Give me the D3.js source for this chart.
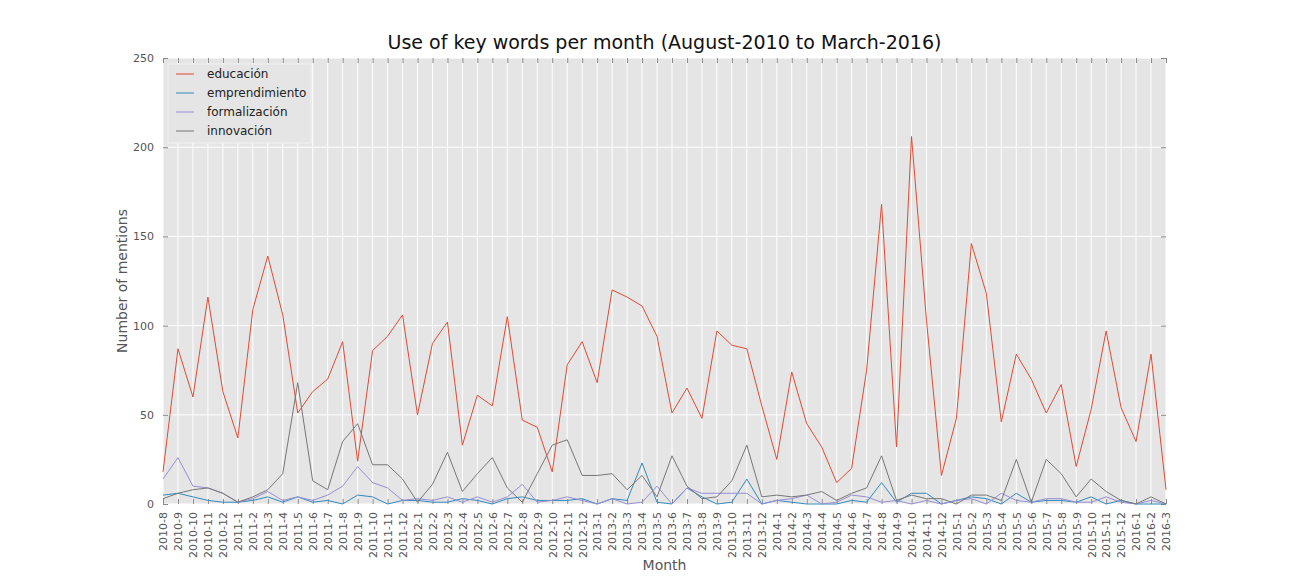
<!DOCTYPE html>
<html><head><meta charset="utf-8">
<script src="https://cdn.jsdelivr.net/npm/d3@7"></script>
<style>body{margin:0;background:#fff;font-family:"DejaVu Sans",sans-serif}</style>
</head><body><svg id="c" width="1296" height="576"></svg>
<script>
// months 2010-8 .. 2016-3
var months = [];
(function(){ var y=2010,m=8; while(!(y==2016&&m==4)){ months.push(y+"-"+m); m++; if(m>12){m=1;y++;} } })();

var educacion = [18,87,60,116,63,37,109,139,106,51,63,70,91,24,86,94,106,50,90,102,33,61,55,105,47,43,18,78,91,68,120,116,111,94,51,65,48,97,89,87,55,25,74,45,32,12,20,75,168,32,206,103,16,48,146,118,46,84,70,51,67,21,53,97,54,35,84,8];
var emprendimiento = [5,6,4,2,1,1,2,4,1,4,1,2,0,5,4,0,2,2,1,1,3,2,0,3,4,2,2,2,3,0,3,2,23,1,0,9,4,0,1,14,0,2,1,0,0,0,2,1,12,1,6,6,0,2,4,3,0,6,1,2,2,1,4,0,2,0,0,0];
var formalizacion = [14,26,10,9,6,1,3,7,2,4,2,5,10,21,12,9,2,3,2,4,1,4,1,4,11,1,2,4,2,0,3,0,1,10,0,9,6,6,6,6,0,2,3,5,0,1,5,4,1,2,0,2,0,2,3,0,6,2,1,3,3,1,1,4,1,0,2,0];
var innovacion = [3,6,8,9,6,1,4,8,17,68,13,8,35,45,22,22,14,1,11,29,7,17,26,9,1,17,33,36,16,16,17,8,16,4,27,10,3,4,13,33,4,5,4,5,7,2,6,9,27,2,5,3,3,0,5,5,2,25,1,25,17,4,14,7,2,0,4,0];

var seriesNames = ["educación","emprendimiento","formalización","innovación"];
var seriesData = [educacion, emprendimiento, formalizacion, innovacion];
var colors = ["#E24A33","#348ABD","#988ED5","#777777"];
var yTicks = [0,50,100,150,200,250];

var L=163,R=1166,T=58,B=504;
var svg = d3.select("#c");
var x = d3.scalePoint().domain(months).range([L,R]);
var y = d3.scaleLinear().domain([0,250]).range([B,T]);

svg.append("rect").attr("x",L).attr("y",T).attr("width",R-L).attr("height",B-T).attr("fill","#E5E5E5");

// grid
svg.append("g").selectAll("line").data(months).join("line")
  .attr("x1",d=>x(d)).attr("x2",d=>x(d)).attr("y1",T).attr("y2",B)
  .attr("stroke","#fff").attr("stroke-width",1);
svg.append("g").selectAll("line").data(yTicks).join("line")
  .attr("x1",L).attr("x2",R).attr("y1",d=>y(d)).attr("y2",d=>y(d))
  .attr("stroke","#fff").attr("stroke-width",1);

// axes
var gl = svg.append("g").attr("transform","translate("+L+",0)")
  .call(d3.axisLeft(y).tickValues(yTicks).tickSize(-5).tickPadding(9));
var gr = svg.append("g").attr("transform","translate("+R+",0)")
  .call(d3.axisRight(y).tickValues(yTicks).tickSize(-5).tickFormat(""));
var gb = svg.append("g").attr("transform","translate(0,"+B+")")
  .call(d3.axisBottom(x).tickSize(-5).tickPadding(8));
var gt = svg.append("g").attr("transform","translate(0,"+T+")")
  .call(d3.axisTop(x).tickSize(-5).tickFormat(""));
[gl,gr,gb,gt].forEach(function(g){
  g.select(".domain").remove();
  g.selectAll(".tick line").attr("stroke","#888");
  g.selectAll("text").attr("fill","#555").attr("font-size",11).attr("font-family","DejaVu Sans");
});
gb.selectAll(".tick text").attr("transform","rotate(-90)").attr("text-anchor","end")
  .attr("x",-8).attr("y",0).attr("dy","0.35em");

// lines
var line = d3.line().x((d,i)=>x(months[i])).y(d=>y(d));
seriesData.forEach(function(s,k){
  svg.append("path").datum(s).attr("d",line).attr("fill","none")
    .attr("stroke",colors[k]).attr("stroke-width",1);
});

// legend
var lg = svg.append("g");
lg.append("rect").attr("x",168).attr("y",64).attr("width",143).attr("height",79)
  .attr("fill","#E5E5E5").attr("stroke","#f2f2f2").attr("stroke-width",1);
seriesNames.forEach(function(n,k){
  var yy = 74 + k*19;
  lg.append("line").attr("x1",176).attr("x2",194).attr("y1",yy).attr("y2",yy).attr("stroke",colors[k]);
  lg.append("text").attr("x",207).attr("y",yy).attr("dy","0.35em").attr("font-size",12)
    .attr("fill","#222").text(n);
});

// titles
svg.append("text").attr("x",(L+R)/2).attr("y",49).attr("text-anchor","middle")
  .attr("font-size",19).attr("fill","#111").text("Use of key words per month (August-2010 to March-2016)");
svg.append("text").attr("x",(L+R)/2).attr("y",570).attr("text-anchor","middle")
  .attr("font-size",14).attr("fill","#555").text("Month");
svg.append("text").attr("transform","translate(127,"+((T+B)/2)+") rotate(-90)").attr("text-anchor","middle")
  .attr("font-size",14).attr("fill","#555").text("Number of mentions");
</script></body></html>
